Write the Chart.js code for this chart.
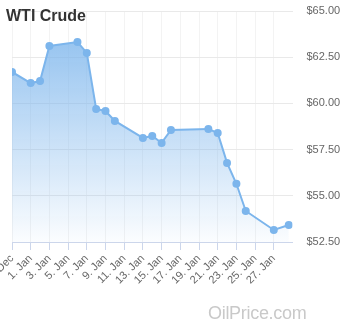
<!DOCTYPE html>
<html>
<head>
<meta charset="utf-8">
<script src="https://cdn.jsdelivr.net/npm/chart.js@4"></script>
<style>
  body { margin: 0; background: #fff; }
  #wrap { position: relative; width: 355px; height: 326px; overflow: hidden; }
  #title { position: absolute; left: 6px; top: 8px; font: bold 16px/16px "Liberation Sans", Arial, sans-serif; color: #333; }
  #mark { position: absolute; left: 208px; top: 304px; font: 18px/18px "Liberation Sans", Arial, sans-serif; color: #c9c9c9; letter-spacing: -0.3px; }
</style>
</head>
<body>
<div id="wrap">
  <canvas id="chart" width="355" height="326"></canvas>
  <div id="title">WTI Crude</div>
  <div id="mark">OilPrice.com</div>
</div>
<script>
// DATA
const dates = ['2019-12-30T00:00', '2020-01-01T00:00', '2020-01-02T00:00', '2020-01-03T00:00',
    '2020-01-06T00:00', '2020-01-07T00:00', '2020-01-08T00:00', '2020-01-09T00:00',
    '2020-01-10T00:00', '2020-01-13T00:00', '2020-01-14T00:00', '2020-01-15T00:00',
    '2020-01-16T00:00', '2020-01-20T00:00', '2020-01-21T00:00', '2020-01-22T00:00',
    '2020-01-23T00:00', '2020-01-24T00:00', '2020-01-27T00:00', '2020-01-28T14:24'],
    prices = [61.70, 61.10, 61.21, 63.11, 63.32, 62.73, 59.70, 59.59, 59.05, 58.13,
        58.24, 57.86, 58.56, 58.62, 58.40, 56.78, 55.65, 54.18, 53.15, 53.42],
    priceTicks = [52.5, 55, 57.5, 60, 62.5, 65]

// day of January (Dec 30 = -1)
const base = Date.UTC(2020, 0, 1)
const dayOf = d => (Date.parse(d + 'Z') - base) / 864e5 + 1
const points = dates.map((d, i) => ({ x: dayOf(d), y: prices[i] }))

const blue = '#7cb5ec'
const font = { family: '"Liberation Sans", Arial, sans-serif', size: 11 }

new Chart(document.getElementById('chart'), {
    type: 'line',
    data: {
        datasets: [
            {
                label: 'WTI Crude',
                data: points,
                borderColor: blue,
                borderWidth: 2,
                pointRadius: 4,
                pointBackgroundColor: blue,
                pointBorderColor: blue,
                pointBorderWidth: 0,
                tension: 0,
                fill: 'start',
                backgroundColor: (ctx) => {
                    const area = ctx.chart.chartArea
                    if (!area) return 'rgba(124,181,236,0.5)'
                    const g = ctx.chart.ctx.createLinearGradient(0, area.top, 0, area.bottom)
                    g.addColorStop(0, 'rgba(124,181,236,0.9)')
                    g.addColorStop(1, 'rgba(124,181,236,0.03)')
                    return g
                },
            },
        ],
    },
    options: {
        responsive: false,
        animation: false,
        layout: { padding: { left: 12, top: 11, right: 0, bottom: 0 } },
        plugins: {
            legend: { display: false },
            tooltip: { enabled: false },
        },
        scales: {
            x: {
                type: 'linear',
                min: -1,
                max: 29,
                afterBuildTicks: (scale) => {
                    const t = []
                    for (let v = -1; v <= 27; v += 2) t.push({ value: v })
                    scale.ticks = t
                },
                afterFit: (scale) => {
                    scale.height = 84
                    scale.paddingLeft = 0
                    scale.paddingRight = 0
                },
                ticks: {
                    autoSkip: false,
                    minRotation: 45,
                    maxRotation: 45,
                    padding: 2,
                    color: '#666',
                    font: font,
                    callback: (v) => v < 1 ? (31 + v) + '. Dec' : v + '. Jan',
                },
                grid: {
                    color: '#f3f3f3',
                    tickColor: '#ccd6eb',
                    tickLength: 8,
                },
                border: { color: '#ccd6eb' },
            },
            y: {
                position: 'right',
                min: 52.5,
                max: 65,
                afterBuildTicks: (scale) => {
                    scale.ticks = priceTicks.map(v => ({ value: v }))
                },
                afterFit: (scale) => {
                    scale.width = 62.5
                    scale.paddingTop = 0
                    scale.paddingBottom = 0
                },
                ticks: {
                    padding: 14,
                    color: '#666',
                    font: font,
                    callback: (v) => '$' + v.toFixed(2),
                },
                grid: {
                    color: '#e9e9e9',
                    drawTicks: false,
                },
                border: { display: false },
            },
        },
    },
})
</script>
</body>
</html>
